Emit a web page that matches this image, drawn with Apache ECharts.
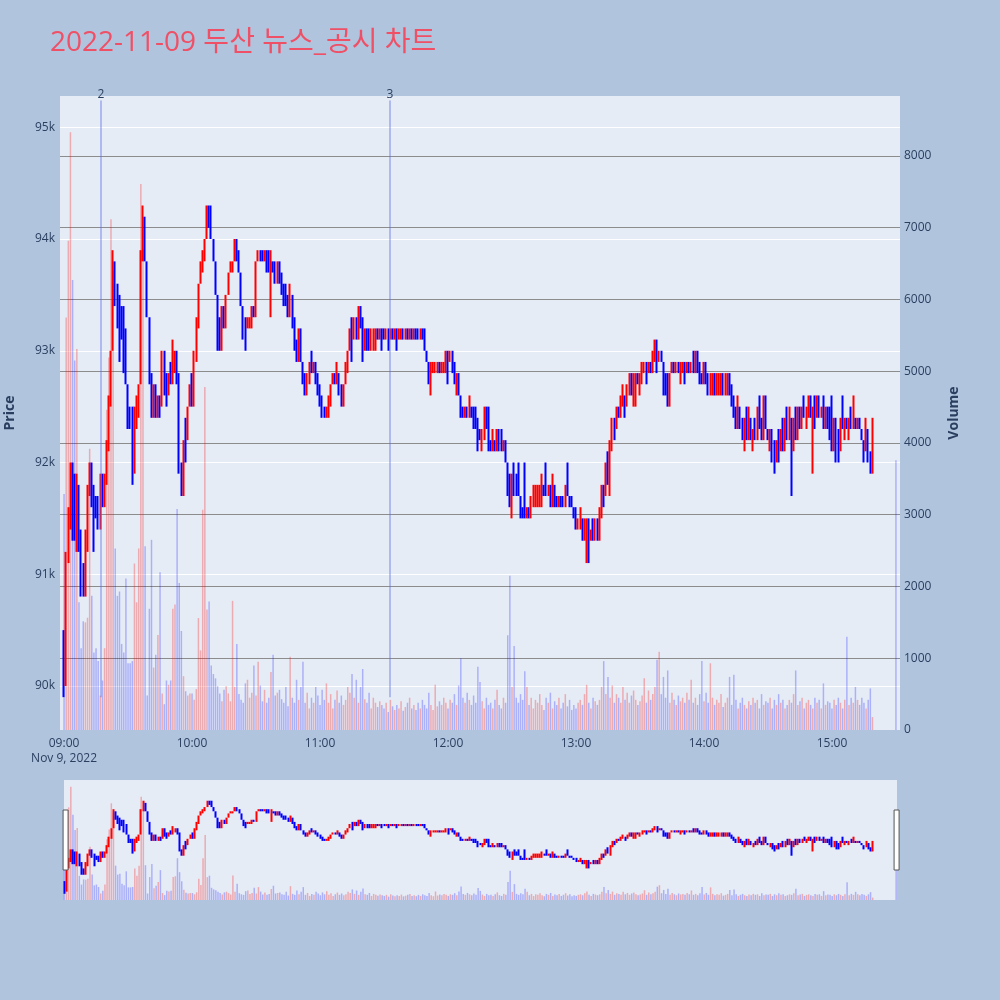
<!DOCTYPE html>
<html>
<head>
<meta charset="utf-8">
<script src="https://cdn.jsdelivr.net/npm/echarts@6/dist/echarts.min.js"></script>
<style>
html,body{margin:0;padding:0;background:#B0C4DE;}
#c{width:1000px;height:1000px;}
</style>
</head>
<body>
<div id="c"></div>
<script>
// ---- data (1-minute candles, 2022-11-09, first candle 09:00) ----
const startMinute = 540; // 09:00 as minutes after midnight
const hourTicks = [540, 600, 660, 720, 780, 840, 900];

const openP = [
90500,90000,91200,91500,91900,91700,91300,91800,91300,91000,
90800,91300,91800,92000,91700,91700,91600,91400,91900,91600,
91900,92200,92600,93000,93800,93600,93500,93400,93400,93100,
92700,92500,92500,91900,92400,92500,92700,93800,94200,93800,
93300,92800,92400,92700,92400,92600,92500,93000,92700,92600,
92800,92700,92800,93000,92800,92000,91700,92400,92200,92500,
92800,92500,92900,93300,93600,93700,93800,94000,94300,94300,
94000,93800,93500,93300,93000,93400,93200,93500,93700,93700,
93800,94000,93900,93700,93400,93300,93200,93200,93200,93400,
93300,93800,93900,93900,93800,93900,93800,93700,93800,93700,
93600,93800,93700,93600,93500,93400,93400,93500,93300,93000,
92900,93100,92900,92700,92600,92800,92900,92800,92900,92800,
92700,92600,92500,92400,92500,92600,92700,92800,92700,92800,
92700,92500,92700,92900,93000,93200,93200,93300,93100,93300,
93200,93100,93200,93100,93000,93000,93100,93200,93100,93200,
93200,93100,93200,93100,93200,93100,93200,93100,93100,93200,
93100,93200,93100,93200,93100,93200,93200,93100,93200,93200,
93000,92900,92800,92800,92800,92800,92900,92800,92800,92900,
93000,92900,93000,92900,92700,92800,92600,92500,92400,92500,
92400,92500,92400,92400,92300,92300,92200,92300,92500,92400,
92200,92100,92200,92100,92300,92200,92100,92200,92000,91800,
91700,91900,91800,91800,91700,91600,91600,91500,91600,91500,
91600,91600,91700,91600,91700,91800,91800,91700,91800,91600,
91800,91700,91600,91700,91700,91600,91800,91700,91700,91600,
91500,91400,91500,91500,91300,91300,91500,91300,91400,91300,
91500,91300,91600,91800,91700,92000,91900,92200,92400,92300,
92500,92400,92500,92600,92600,92700,92800,92700,92700,92800,
92700,92800,92800,92900,92800,92900,92800,92900,93000,92900,
93000,92900,92800,92800,92600,92800,92900,92800,92900,92800,
92800,92900,92800,92900,92800,92900,92800,93000,92900,92800,
92700,92900,92800,92600,92600,92800,92600,92600,92600,92800,
92600,92600,92800,92700,92600,92500,92300,92500,92300,92200,
92400,92200,92400,92200,92300,92200,92500,92400,92200,92500,
92300,92200,92300,92100,92000,92200,92100,92300,92200,92400,
92200,92400,92200,92400,92300,92500,92400,92500,92400,92500,
92600,92400,92500,92400,92500,92400,92500,92400,92500,92400,
92200,92200,92400,92200,92100,92400,92300,92400,92300,92400,
92300,92400,92300,92400,92300,92200,92100,92300,92100,91900
];

const closeP = [
89900,91200,91500,92000,91400,91300,91800,91300,90900,90800,
91300,91800,92000,91700,91400,91600,91400,91900,91600,91900,
92200,92600,93000,93700,93400,93400,93200,93100,92800,92700,
92300,92400,92000,92400,92500,92700,93800,94200,93800,93400,
92700,92500,92700,92400,92600,92400,93000,92600,92600,92800,
92700,93000,93000,92800,91900,91700,92200,92000,92500,92700,
92500,93000,93300,93600,93700,93900,94000,94300,94100,94000,
93800,93500,93000,93000,93400,93200,93500,93700,93800,93800,
94000,93800,93700,93400,93100,93200,93300,93300,93400,93300,
93800,93900,93800,93800,93900,93700,93700,93800,93700,93600,
93800,93700,93500,93500,93400,93300,93600,93300,93000,92900,
93200,92900,92700,92600,92800,92900,92800,92900,92800,92700,
92600,92500,92400,92500,92600,92700,92800,92700,92800,92600,
92500,92700,92900,93000,93200,93100,93300,93100,93300,93200,
93100,93200,93000,93000,93200,93200,93200,93100,93200,93100,
93100,93200,93100,93200,93100,93200,93100,93200,93200,93100,
93200,93100,93200,93100,93200,93100,93100,93200,93100,93000,
92900,92800,92900,92900,92900,92900,92800,92900,92900,93000,
92900,93000,92800,92700,92800,92600,92500,92400,92500,92400,
92500,92400,92300,92300,92200,92200,92300,92500,92400,92100,
92100,92300,92100,92300,92200,92100,92200,92000,91700,91700,
91900,91800,91700,91700,91600,91500,91500,91600,91500,91700,
91800,91800,91800,91800,91800,91700,91700,91800,91600,91800,
91700,91600,91700,91600,91600,91800,91700,91600,91600,91500,
91400,91500,91600,91400,91500,91500,91300,91400,91300,91500,
91300,91600,91800,91700,92000,91900,92200,92400,92200,92500,
92400,92600,92600,92500,92700,92800,92700,92800,92800,92700,
92800,92900,92900,92800,92900,92800,93000,93000,92900,93000,
92900,92800,92600,92500,92800,92900,92800,92900,92800,92900,
92900,92800,92900,92800,92900,92800,93000,92900,92700,92700,
92900,92800,92700,92800,92800,92600,92800,92800,92800,92600,
92800,92700,92700,92500,92400,92300,92500,92300,92200,92400,
92300,92400,92200,92300,92200,92500,92400,92200,92500,92300,
92200,92300,92100,92000,92200,92100,92300,92200,92400,92200,
92400,92300,92400,92300,92500,92400,92500,92400,92500,92600,
92400,92500,92400,92500,92400,92500,92400,92500,92400,92200,
92100,92400,92200,92100,92400,92300,92400,92300,92400,92300,
92400,92300,92400,92300,92200,92000,92300,92100,92000,92400
];

const highP = [
90500,91200,91600,92000,92000,91900,91900,91800,91400,91100,
91400,91800,92000,92000,91800,91700,91700,91900,91900,91900,
92200,92600,93000,93900,93800,93600,93500,93400,93400,93200,
92700,92500,92500,92500,92600,92700,93900,94300,94200,93800,
93300,92800,92700,92700,92600,92600,93000,93000,92800,92800,
92900,93100,93000,93000,92800,92000,92200,92400,92500,92700,
92800,93000,93300,93600,93800,93900,94000,94300,94300,94300,
94000,93800,93500,93300,93400,93400,93500,93700,93800,93800,
94000,94000,93900,93700,93400,93300,93300,93300,93400,93400,
93800,93900,93900,93900,93900,93900,93900,93900,93800,93800,
93800,93800,93700,93600,93600,93500,93600,93500,93300,93100,
93200,93200,92900,92800,92800,92900,93000,92900,92900,92800,
92700,92600,92500,92500,92600,92700,92800,92800,92900,92800,
92700,92700,92900,93000,93200,93300,93300,93300,93400,93400,
93300,93200,93200,93200,93200,93200,93200,93200,93200,93200,
93200,93200,93200,93200,93200,93200,93200,93200,93200,93200,
93200,93200,93200,93200,93200,93200,93200,93200,93200,93200,
93000,92900,92900,92900,92900,92900,92900,92900,92900,93000,
93000,93000,93000,92900,92800,92800,92600,92500,92500,92500,
92600,92500,92500,92500,92400,92300,92300,92500,92500,92500,
92200,92300,92200,92300,92300,92300,92200,92200,92000,91900,
91900,92000,91900,92000,91700,91600,92000,91600,91600,91700,
91800,91800,91800,91800,91900,91800,92000,91800,91800,91900,
91800,91700,91700,91700,91700,91800,92000,91700,91700,91600,
91600,91500,91600,91500,91500,91500,91500,91400,91500,91500,
91500,91600,91800,91800,92000,92100,92200,92400,92400,92500,
92500,92600,92700,92600,92700,92800,92800,92800,92800,92800,
92800,92900,92900,92900,92900,92900,93000,93100,93100,93000,
93000,92900,92800,92800,92800,92900,92900,92900,92900,92900,
92900,92900,92900,92900,92900,93000,93000,93000,92900,92800,
92900,92900,92800,92800,92800,92800,92800,92800,92800,92800,
92800,92800,92800,92700,92600,92500,92600,92500,92400,92400,
92500,92500,92400,92300,92400,92500,92600,92400,92600,92600,
92300,92300,92300,92200,92200,92300,92300,92400,92400,92500,
92500,92400,92400,92500,92500,92500,92500,92600,92500,92600,
92600,92500,92600,92600,92600,92500,92600,92500,92500,92500,
92600,92400,92400,92300,92400,92600,92400,92400,92400,92500,
92600,92400,92400,92400,92300,92200,92400,92300,92100,92400
];

const lowP = [
89900,90000,91100,91400,91300,91300,91200,91200,90800,90800,
90800,91200,91700,91600,91200,91500,91400,91400,91600,91600,
91800,92100,92500,93000,93400,93200,92900,93100,92800,92700,
92300,92300,91800,91900,92300,92400,92700,93800,93800,93300,
92700,92400,92400,92400,92400,92400,92500,92600,92500,92600,
92700,92700,92800,92700,91900,91700,91700,92000,92200,92500,
92500,92500,92900,93200,93600,93700,93800,94000,94100,94000,
93800,93500,93000,93000,93000,93200,93200,93500,93700,93700,
93800,93800,93700,93400,93100,93000,93200,93200,93200,93300,
93300,93800,93800,93800,93800,93700,93700,93300,93700,93600,
93600,93600,93500,93400,93400,93300,93300,93200,93000,92900,
92900,92900,92700,92600,92600,92700,92800,92800,92700,92600,
92500,92400,92400,92400,92400,92500,92700,92700,92700,92600,
92500,92500,92700,92800,93000,92900,93100,93100,93100,93200,
92900,93000,93000,93000,93000,93000,93000,93100,93100,93000,
93100,93100,93000,93100,93100,93100,93000,93100,93100,93100,
93100,93100,93100,93100,93100,93100,93100,93100,93100,93000,
92900,92700,92600,92800,92800,92800,92800,92800,92800,92800,
92700,92900,92800,92700,92600,92600,92400,92400,92400,92400,
92400,92400,92300,92300,92100,92200,92100,92200,92300,92100,
92100,92100,92100,92100,92100,92100,92100,92000,91700,91600,
91500,91700,91700,91700,91500,91500,91500,91500,91500,91500,
91600,91600,91600,91600,91600,91700,91700,91700,91600,91600,
91600,91600,91600,91600,91600,91600,91700,91600,91600,91500,
91400,91400,91400,91300,91300,91100,91100,91300,91300,91300,
91300,91300,91500,91600,91700,91800,91700,92100,92200,92300,
92400,92400,92500,92400,92500,92600,92600,92500,92500,92700,
92600,92700,92800,92700,92800,92800,92800,92900,92800,92900,
92900,92600,92600,92500,92500,92800,92800,92800,92800,92700,
92800,92700,92800,92800,92800,92800,92800,92800,92700,92700,
92700,92700,92600,92600,92600,92600,92600,92600,92600,92600,
92600,92600,92600,92500,92400,92300,92300,92300,92200,92100,
92200,92200,92200,92100,92200,92200,92300,92200,92200,92300,
92200,92100,92000,91900,92000,92000,92100,92100,92100,92200,
92200,91700,92100,92200,92200,92300,92300,92400,92300,92400,
92400,91900,92300,92400,92400,92400,92300,92300,92300,92200,
92100,92100,92000,92000,92100,92300,92200,92300,92200,92300,
92300,92300,92300,92300,92200,92000,92100,92000,91900,91900
];

const volumes = [
3290,5750,6820,8330,6270,5150,5310,1780,1140,1515,
1500,1565,3920,1870,1080,1140,960,480,690,1140,
4465,5190,7120,6400,2530,1870,1930,1200,1080,2110,
930,930,960,2320,1780,2530,7610,6700,2560,480,
1690,2650,870,1050,1325,2200,510,360,690,630,
690,1690,1750,3080,2050,1380,750,540,480,510,
510,420,570,1560,1110,3070,4780,1680,1790,900,
780,720,610,510,400,560,610,510,400,1800,
600,1200,500,420,380,650,700,450,520,900,
480,950,620,400,560,380,450,810,1050,480,
520,560,430,380,600,330,1020,450,380,700,
420,600,950,380,520,300,450,380,600,480,
350,560,420,650,380,500,300,420,550,380,
480,350,420,600,520,780,450,700,380,600,
850,430,380,520,300,450,380,320,400,350,
300,380,250,420,330,280,350,300,400,270,
320,380,450,300,350,280,380,300,420,350,
300,520,350,280,630,330,400,350,450,380,
300,420,380,500,350,620,1000,450,380,520,
420,350,480,380,880,670,400,300,450,350,
380,300,420,560,350,300,450,380,1320,2150,
600,1170,450,380,500,420,820,600,350,450,
300,420,380,500,350,280,450,380,520,300,
400,350,450,300,380,500,330,420,280,350,
300,380,420,350,500,630,380,300,450,400,
350,420,600,960,500,740,450,620,380,500,
450,380,600,420,520,380,480,550,420,350,
400,480,720,380,550,420,500,600,980,1090,
500,740,450,830,380,520,420,350,480,400,
450,380,520,420,700,380,450,350,500,960,
400,520,380,930,450,350,420,380,500,320,
380,450,740,350,770,420,300,380,450,350,
300,400,350,450,380,420,300,500,350,400,
380,450,300,420,350,500,380,420,300,350,
420,380,500,830,350,400,450,300,380,420,
350,300,450,380,420,300,650,350,400,380,
300,420,350,450,380,300,420,1300,350,450,
380,600,420,350,450,380,300,420,580,180
];

// closing auction print at 15:30
const closeMinute = 930;
const closeOpen = 92200, closeClose = 92200, closeLow = 92200, closeHigh = 92200;
const closeVolume = 3760;

// news markers (minutes after midnight)
const newsLabels = ['2', '3'];
const newsMinutes = [557.33, 692.8];

// ---- build series data ----
const UP = '#ff0000', DOWN = '#0000ff';
const UP_VOL = 'rgba(255,0,0,0.28)', DOWN_VOL = 'rgba(0,0,255,0.25)';
const candleData = [], volData = [];
for (let i = 0; i < closeP.length; i++) {
  const x = startMinute + i;
  const o = openP[i], c = closeP[i];
  const l = Math.min(lowP[i], o, c), h = Math.max(highP[i], o, c);
  candleData.push([x, o, c, l, h]);
  const up = c > o || (c === o && i > 0 && c >= closeP[i - 1]);
  volData.push({ value: [x, volumes[i]], itemStyle: { color: up ? UP_VOL : DOWN_VOL } });
}
candleData.push([closeMinute, closeOpen, closeClose, closeLow, closeHigh]);
volData.push({ value: [closeMinute, closeVolume], itemStyle: { color: closeClose >= closeP[closeP.length - 1] ? UP_VOL : DOWN_VOL } });

const PRICE_MIN = 89606, PRICE_MAX = 95280;
const VOL_MAX = 8836;
const FONT = '"Open Sans", verdana, arial, sans-serif';
const TXT = '#2a3f5f';

function hhmm(v) {
  const h = Math.floor(v / 60), m = Math.round(v % 60);
  return (h < 10 ? '0' : '') + h + ':' + (m < 10 ? '0' : '') + m;
}

const chart = echarts.init(document.getElementById('c'), null, { renderer: 'canvas', width: 1000, height: 1000 });
chart.setOption({
  animation: false,
  backgroundColor: '#B0C4DE',
  textStyle: { fontFamily: FONT },
  title: {
    text: '2022-11-09 두산 뉴스_공시 차트',
    left: 50, top: 29, padding: 0,
    textStyle: { color: '#ef5066', fontSize: 28, fontWeight: 'normal', fontFamily: '"Open Sans", "Noto Sans CJK KR", sans-serif' }
  },
  grid: [
    { left: 60, top: 96, width: 840, height: 634, show: true, backgroundColor: '#E5ECF6', borderWidth: 0, outerBoundsMode: 'none', containLabel: false },
    { left: 64, top: 780, width: 833, height: 120, show: true, backgroundColor: '#E5ECF6', borderWidth: 0, outerBoundsMode: 'none', containLabel: false }
  ],
  xAxis: [
    {
      type: 'value', gridIndex: 0, min: 538.1, max: 931.9,
      axisLine: { show: false }, axisTick: { show: false }, splitLine: { show: false },
      axisLabel: {
        customValues: hourTicks, margin: 6, color: TXT, fontSize: 12, fontFamily: FONT, lineHeight: 15,
        formatter: v => v === hourTicks[0] ? hhmm(v) + '\nNov 9, 2022' : hhmm(v)
      }
    },
    { type: 'value', gridIndex: 1, min: 539.8, max: 930.4, show: false }
  ],
  yAxis: [
    {
      type: 'value', gridIndex: 0, position: 'left', min: PRICE_MIN, max: PRICE_MAX,
      axisLine: { show: false }, axisTick: { show: false },
      splitLine: { show: true, showMinLine: false, showMaxLine: false, lineStyle: { color: '#ffffff', width: 1 } },
      axisLabel: { color: TXT, fontSize: 12, margin: 5, showMinLabel: false, showMaxLabel: false,
        formatter: v => (v % 1000 === 0 ? (v / 1000) + 'k' : '') },
      name: 'Price', nameLocation: 'middle', nameRotate: 90, nameGap: 43,
      nameTextStyle: { color: TXT, fontSize: 14, fontWeight: 'bold', fontFamily: FONT }
    },
    {
      type: 'value', gridIndex: 0, position: 'right', min: 0, max: VOL_MAX, interval: 1000,
      axisLine: { show: false }, axisTick: { show: false },
      splitLine: { show: true, showMinLine: false, showMaxLine: false, lineStyle: { color: '#8c8c8c', width: 1 } },
      axisLabel: { color: TXT, fontSize: 12, margin: 4, showMaxLabel: false,
        formatter: v => (v % 1000 === 0 ? String(v) : '') },
      name: 'Volume', nameLocation: 'middle', nameRotate: 90, nameGap: 47,
      nameTextStyle: { color: TXT, fontSize: 14, fontWeight: 'bold', fontFamily: FONT }
    },
    { type: 'value', gridIndex: 1, min: PRICE_MIN, max: PRICE_MAX, show: false },
    { type: 'value', gridIndex: 1, min: 0, max: VOL_MAX, show: false }
  ],
  dataZoom: [{
    type: 'slider', xAxisIndex: 0, filterMode: 'none', start: 0, end: 100,
    left: 64, right: 103, top: 780, height: 120,
    backgroundColor: 'rgba(0,0,0,0)', borderColor: 'rgba(0,0,0,0)', fillerColor: 'rgba(0,0,0,0)',
    showDataShadow: false, showDetail: false, moveHandleSize: 0, brushSelect: false,
    handleIcon: 'path://M0,0 H1 V12 H0 Z', handleSize: '50%',
    handleStyle: { color: '#ffffff', borderColor: '#555555', borderWidth: 1 },
    emphasis: { handleStyle: { color: '#ffffff', borderColor: '#333333' } }
  }],
  series: [
    {
      type: 'bar', name: 'Volume', xAxisIndex: 0, yAxisIndex: 1, data: volData,
      barWidth: 1.5, z: 1, silent: true
    },
    {
      type: 'candlestick', name: 'Price', xAxisIndex: 0, yAxisIndex: 0, data: candleData,
      encode: { x: 0, y: [1, 2, 3, 4] },
      barWidth: 1, z: 2,
      itemStyle: { color: UP, color0: DOWN, borderColor: UP, borderColor0: DOWN, borderColorDoji: DOWN, borderWidth: 2 },
      markLine: {
        silent: true, symbol: ['none', 'none'], animation: false,
        lineStyle: { color: 'rgba(90,110,230,0.4)', width: 2, type: 'solid' },
        label: { show: true, position: 'end', formatter: '{b}', color: TXT, fontSize: 12, distance: 0 },
        emphasis: { disabled: true },
        data: newsMinutes.map((m, k) => [
          { coord: [m, 89900], name: newsLabels[k] },
          { coord: [m, 95240] }
        ])
      }
    },
    {
      type: 'bar', xAxisIndex: 1, yAxisIndex: 3, data: volData,
      barWidth: 1.5, z: 1, silent: true
    },
    {
      type: 'candlestick', xAxisIndex: 1, yAxisIndex: 2, data: candleData,
      encode: { x: 0, y: [1, 2, 3, 4] },
      barWidth: 1, z: 2, silent: true,
      itemStyle: { color: UP, color0: DOWN, borderColor: UP, borderColor0: DOWN, borderColorDoji: DOWN, borderWidth: 2 }
    }
  ]
});
</script>
</body>
</html>
